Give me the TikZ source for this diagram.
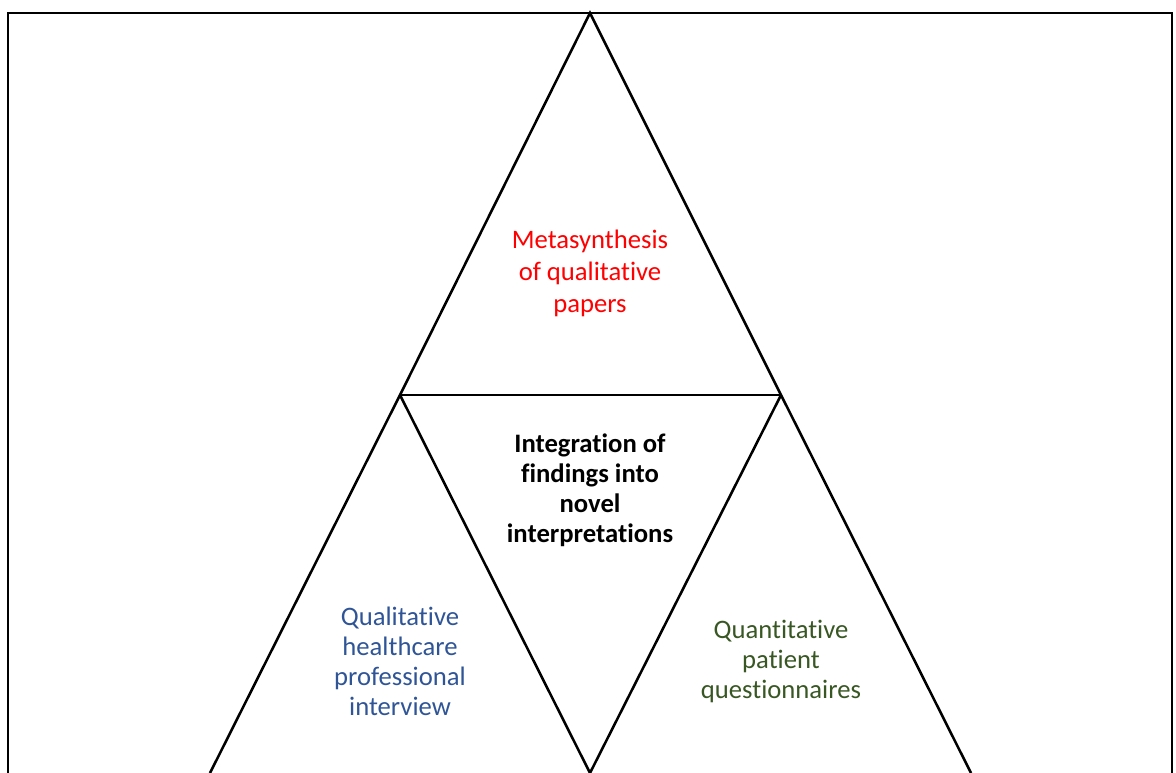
\documentclass[tikz,border=0pt]{standalone}
\usepackage{fontspec}
\setmainfont[RawFeature={-liga;-clig;-calt;-dlig}]{Carlito}
\definecolor{metared}{HTML}{FF0000}
\definecolor{qualblue}{HTML}{2F5597}
\definecolor{quantgreen}{HTML}{385723}
\begin{document}
\begin{tikzpicture}[x=0.75pt,y=-0.75pt,
  edge/.style={line width=1.9pt, line join=miter},
  lbl/.style={align=center, font=\fontsize{20}{22.5}\selectfont, inner sep=0pt}]
\useasboundingbox (0,0) rectangle (1176,773);
\clip (0,0) rectangle (1176,773);
\draw[line width=1.9pt] (8,13) rectangle (1172,800);
\coordinate (apex) at (590,13);
\coordinate (ml) at (400,395);
\coordinate (mr) at (781,395);
\coordinate (bl) at (210,773);
\coordinate (bm) at (590,773);
\coordinate (br) at (971,773);
\draw[edge] (bl) -- (ml) -- (apex) -- (mr) -- (br);
\draw[edge] (ml) -- (mr);
\draw[edge] (ml) -- (bm) -- (mr);
\node[lbl, text=metared, font=\fontsize{20}{24}\selectfont] (meta) at (590,273) {Metasynthesis\\of qualitative\\papers};
\node[lbl, font=\fontsize{20}{22.5}\selectfont\bfseries] (integ) at (590,490) {Integration of\\findings into\\novel\\interpretations};
\node[lbl, text=qualblue] (qual) at (400,661) {Qualitative\\healthcare\\professional\\interview};
\node[lbl, text=quantgreen] (quant) at (781,661) {Quantitative\\patient\\questionnaires};
\end{tikzpicture}
\end{document}
